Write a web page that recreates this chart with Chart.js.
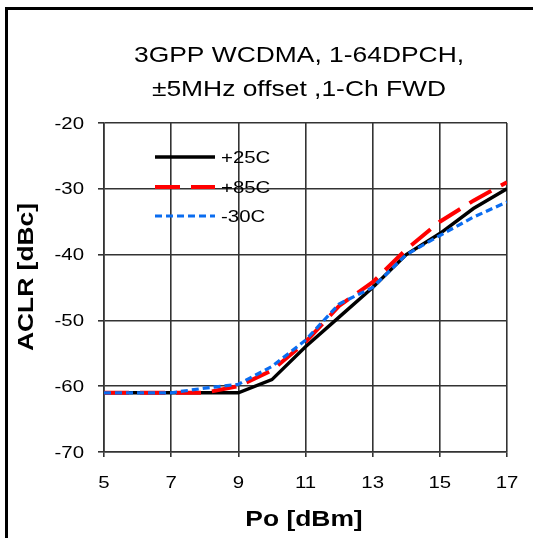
<!DOCTYPE html>
<html>
<head>
<meta charset="utf-8">
<script src="https://cdn.jsdelivr.net/npm/chart.js@4"></script>
<style>
  html, body { margin: 0; padding: 0; background: #fff; }
  #wrap { position: relative; width: 533px; height: 538px; }
  #frame {
    position: absolute; left: 5px; top: 7px; right: 0; bottom: 0;
    border-top: 3px solid #000; border-left: 3px solid #000;
  }
  #chart { position: absolute; left: 0; top: 0; }
</style>
</head>
<body>
<div id="wrap">
  <div id="frame"></div>
  <canvas id="chart" width="533" height="538"></canvas>
</div>
<script>
// Chart data
const titleLines = ['3GPP WCDMA, 1-64DPCH,', '\u00b15MHz offset ,1-Ch FWD'];
const xLabel = 'Po [dBm]';
const yLabel = 'ACLR [dBc]';

const powerOut = [5, 6, 7, 8, 9, 10, 11, 12, 13, 14, 15, 16, 17];
const aclr25C = [-61, -61, -61, -61, -61, -59, -54, -49.5, -45, -40, -36.8, -33, -30];
const aclr85C = [-61, -61, -61, -61, -60, -57.6, -53.3, -47.8, -44.2, -39.2, -35, -31.8, -29];
const aclrMinus30C = [-61, -61, -61, -60.3, -59.7, -57, -53, -47.5, -45, -40, -37.1, -34.3, -32];

const FONT = "'Liberation Sans', Arial, sans-serif";
// the source image is a bit wider than tall, text looks stretched
const STRETCH = 1.2;

const toPoints = (ys) => powerOut.map((x, i) => ({ x: x, y: ys[i] }));

function stretchText(ctx, text, x, y, align, rotate) {
  ctx.save();
  ctx.translate(x, y);
  if (rotate) ctx.rotate(-Math.PI / 2);
  ctx.scale(STRETCH, 1);
  ctx.textAlign = align;
  ctx.textBaseline = 'middle';
  ctx.fillText(text, 0, 0);
  ctx.restore();
}

// title, tick labels, axis titles and in-plot legend
const textPlugin = {
  id: 'texts',
  afterDatasetsDraw(chart) {
    const ctx = chart.ctx;
    const xs = chart.scales.x;
    const ys = chart.scales.y;
    ctx.save();
    ctx.fillStyle = '#000';

    // title
    ctx.font = '22px ' + FONT;
    stretchText(ctx, titleLines[0], 299, 56, 'center');
    stretchText(ctx, titleLines[1], 299, 90, 'center');

    // tick labels
    ctx.font = '17px ' + FONT;
    xs.ticks.forEach(t => {
      stretchText(ctx, String(t.value), xs.getPixelForValue(t.value), 483, 'center');
    });
    ys.ticks.forEach(t => {
      stretchText(ctx, String(t.value), 84, ys.getPixelForValue(t.value) + 1, 'right');
    });

    // axis titles
    ctx.font = 'bold 22px ' + FONT;
    stretchText(ctx, xLabel, 304, 520, 'center');
    stretchText(ctx, yLabel, 27, 277, 'center', true);

    // legend inside plot area
    const rows = [157, 187, 216];
    chart.data.datasets.forEach((ds, i) => {
      const y = rows[i];
      ctx.beginPath();
      ctx.strokeStyle = ds.borderColor;
      ctx.lineWidth = ds.borderWidth;
      ctx.setLineDash(ds.borderDash || []);
      ctx.moveTo(155, y);
      ctx.lineTo(215, y);
      ctx.stroke();
      ctx.setLineDash([]);
      ctx.font = '17px ' + FONT;
      stretchText(ctx, ds.label, 221, y + 1, 'left');
    });
    ctx.restore();
  }
};

new Chart(document.getElementById('chart'), {
  type: 'line',
  data: {
    datasets: [
      {
        label: '+25C',
        data: toPoints(aclr25C),
        borderColor: '#000000',
        borderWidth: 3.4,
        order: 3
      },
      {
        label: '+85C',
        data: toPoints(aclr85C),
        borderColor: '#ff0000',
        borderWidth: 4,
        borderDash: [25, 11],
        order: 2
      },
      {
        label: '-30C',
        data: toPoints(aclrMinus30C),
        borderColor: '#0a6cf0',
        borderWidth: 3.2,
        borderDash: [7, 4],
        order: 1
      }
    ]
  },
  options: {
    responsive: false,
    animation: false,
    devicePixelRatio: 1,
    layout: { padding: { left: 0, right: 26, top: 123, bottom: 0 } },
    elements: {
      point: { radius: 0 },
      line: { tension: 0, fill: false }
    },
    plugins: {
      legend: { display: false },
      title: { display: false },
      tooltip: { enabled: false }
    },
    scales: {
      x: {
        type: 'linear',
        min: 5,
        max: 17,
        afterFit: (scale) => { scale.height = 86; },
        ticks: { stepSize: 2, display: false },
        grid: { color: '#333', lineWidth: 1.6, tickLength: 5 },
        border: { color: '#333', width: 1.6 }
      },
      y: {
        min: -70,
        max: -20,
        afterFit: (scale) => { scale.width = 104; },
        ticks: { stepSize: 10, display: false },
        grid: { color: '#333', lineWidth: 1.6, tickLength: 6 },
        border: { color: '#333', width: 1.6 }
      }
    }
  },
  plugins: [textPlugin]
});
</script>
</body>
</html>
